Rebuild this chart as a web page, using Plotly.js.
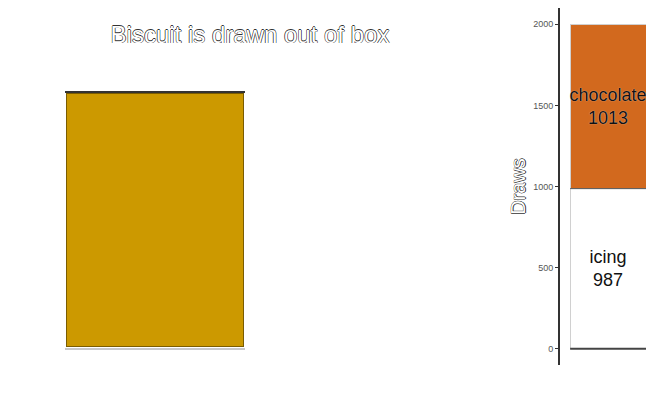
<!DOCTYPE html>
<html>
<head>
<meta charset="utf-8">
<script src="https://cdn.plot.ly/plotly-3.0.1.min.js"></script>
<style>html,body{margin:0;padding:0;background:#fff;}#chart{width:664px;height:402px;}</style>
</head>
<body>
<div id="chart"></div>
<script>
// Data
const boxCategory = ["box"];
const boxFill = [1];
const drawCategory = ["draws"];
const flavours = ["icing", "chocolate"];
const drawCounts = [987, 1013];
const flavourColors = ["#FFFFFF", "#D2691E"];
const yTicks = [0, 500, 1000, 1500, 2000];

const FONT = "Liberation Sans, Arial, sans-serif";
const outline = (c, d) => `-${d}px 0 0 ${c}, ${d}px 0 0 ${c}, 0 -${d}px 0 ${c}, 0 ${d}px 0 ${c}`;

const traces = [];
traces.push({
  type: "bar", x: boxCategory, y: boxFill, xaxis: "x", yaxis: "y",
  width: 0.985,
  marker: {color: "#CC9900", line: {color: "#7A5C00", width: 1}},
  hoverinfo: "skip", showlegend: false
});
flavours.forEach((f, i) => {
  traces.push({
    type: "bar", x: drawCategory, y: [drawCounts[i]], name: f,
    xaxis: "x2", yaxis: "y2", width: 1,
    marker: {color: flavourColors[i], line: {color: "#D0D0D0", width: 1}},
    text: [f + "<br>" + drawCounts[i]],
    textposition: "inside", insidetextanchor: "middle", textangle: 0,
    constraintext: "none",
    textfont: {family: FONT, size: 18, color: "#111", shadow: "0 0 1px rgba(255,255,255,0.8)"},
    showlegend: false, hoverinfo: "skip"
  });
});

const layout = {
  width: 664, height: 402,
  margin: {l: 0, r: 0, t: 0, b: 0},
  paper_bgcolor: "#fff", plot_bgcolor: "rgba(0,0,0,0)",
  barmode: "stack", bargap: 0,
  font: {family: FONT},
  title: {
    text: "Biscuit is drawn out of box",
    x: 0.3765, xanchor: "center", xref: "paper",
    y: 0.915, yanchor: "middle", yref: "paper",
    font: {family: FONT, size: 24, color: "#ffffff", shadow: outline("#333", 0.6)}
  },
  xaxis: {domain: [65/664, 245/664], range: [-0.5, 0.5], visible: false, fixedrange: true},
  yaxis: {domain: [1 - 349/402, 1 - 92/402], range: [-0.008, 1.006], visible: false, fixedrange: true},
  xaxis2: {domain: [558/664, 646/664], range: [-0.66, 0.5], visible: false, fixedrange: true, anchor: "y2"},
  yaxis2: {
    domain: [1 - 365/402, 1 - 8/402], range: [-100, 2100], anchor: "free", position: 558/664,
    showline: true, linecolor: "#333", linewidth: 1.5,
    ticks: "outside", ticklen: 3, tickcolor: "#333", tickwidth: 1,
    tickvals: yTicks, ticktext: yTicks.map(String),
    tickfont: {family: FONT, size: 9, color: "#555"},
    showgrid: false, zeroline: false,
    title: {text: "Draws", standoff: 0, font: {family: FONT, size: 20, color: "#ffffff", shadow: outline("#333", 0.6)}},
    fixedrange: true
  },
  shapes: [
    {type: "line", xref: "x domain", yref: "y domain", x0: 0, x1: 1, y0: 1, y1: 1, line: {color: "#333", width: 2}},
    {type: "line", xref: "x domain", yref: "y domain", x0: 0, x1: 1, y0: 0, y1: 0, line: {color: "#C8C8C8", width: 2}},
    {type: "line", xref: "x2", yref: "y2", x0: -0.5, x1: 0.5, y0: 0, y1: 0, line: {color: "#444", width: 2}},
    {type: "line", xref: "x2", yref: "y2", x0: -0.5, x1: 0.5, y0: drawCounts[0], y1: drawCounts[0], line: {color: "#555", width: 1}}
  ]
};

Plotly.newPlot("chart", traces, layout, {displayModeBar: false, staticPlot: true});
</script>
</body>
</html>
